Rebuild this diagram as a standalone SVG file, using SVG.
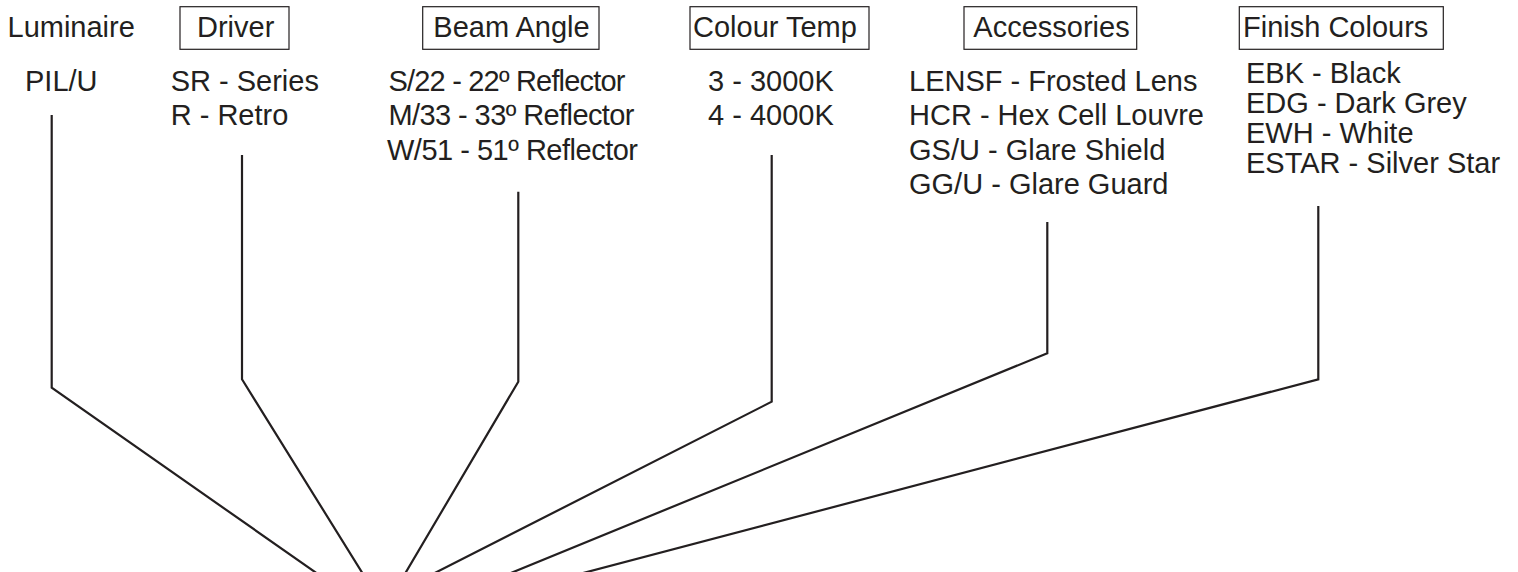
<svg xmlns="http://www.w3.org/2000/svg" width="1518" height="572" viewBox="0 0 1518 572">
<style>
text{font-family:"Liberation Sans",Arial,sans-serif;font-size:29px;fill:#231f20}
.box{fill:none;stroke:#231f20;stroke-width:1.2}
.conn{fill:none;stroke:#231f20;stroke-width:2.2;stroke-linejoin:miter}
</style>
<rect width="1518" height="572" fill="#ffffff"/>
<g id="luminaire">
<text x="7.5" y="37.3">Luminaire</text>
<text x="25" y="90.7">PIL/U</text>
</g>
<g id="driver">
<rect class="box" x="180" y="6.7" width="109" height="42.6"/>
<text x="197" y="37.3">Driver</text>
<text x="170.7" y="90.7">SR - Series</text>
<text x="170.7" y="125.2">R - Retro</text>
</g>
<g id="beam-angle">
<rect class="box" x="422.7" y="6.7" width="176.3" height="42.6"/>
<text x="433.3" y="37.3">Beam Angle</text>
<text x="388.5" y="90.7" textLength="237" lengthAdjust="spacing">S/22 - 22º Reflector</text>
<text x="388.5" y="125.2" textLength="246" lengthAdjust="spacing">M/33 - 33º Reflector</text>
<text x="387" y="159.7" textLength="251" lengthAdjust="spacing">W/51 - 51º Reflector</text>
</g>
<g id="colour-temp">
<rect class="box" x="690" y="6.7" width="179" height="42.6"/>
<text x="693" y="37.3">Colour Temp</text>
<text x="708" y="90.7">3 - 3000K</text>
<text x="708" y="125.2">4 - 4000K</text>
</g>
<g id="accessories">
<rect class="box" x="964" y="6.7" width="172.7" height="42.6"/>
<text x="973.3" y="37.3">Accessories</text>
<text x="909" y="90.7">LENSF - Frosted Lens</text>
<text x="909" y="125.2">HCR - Hex Cell Louvre</text>
<text x="909" y="159.7">GS/U - Glare Shield</text>
<text x="909" y="194.2">GG/U - Glare Guard</text>
</g>
<g id="finish-colours">
<rect class="box" x="1239.3" y="6.7" width="204" height="42.6"/>
<text x="1243" y="37.3">Finish Colours</text>
<text x="1246" y="83.3">EBK - Black</text>
<text x="1246" y="113.3">EDG - Dark Grey</text>
<text x="1246" y="143.3">EWH - White</text>
<text x="1246" y="173.3">ESTAR - Silver Star</text>
</g>
<g id="connectors">
<polyline class="conn" points="51.7,115 51.7,387.7 326.4,580"/>
<polyline class="conn" points="242,155 242,379.3 366.7,580"/>
<polyline class="conn" points="518.3,191.7 518.3,381.7 401.3,580"/>
<polyline class="conn" points="771.7,155 771.7,401.7 421,580"/>
<polyline class="conn" points="1047.3,222 1047.3,353.3 493.8,580"/>
<polyline class="conn" points="1318.3,206 1318.3,379.3 556.6,580"/>
</g>
</svg>
